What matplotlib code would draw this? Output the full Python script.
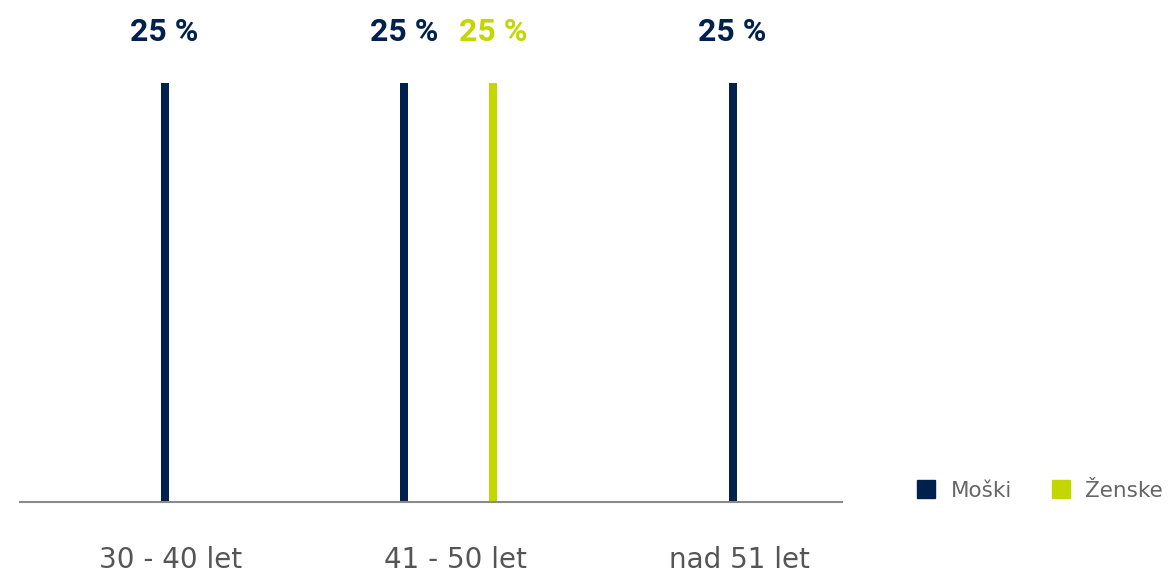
import matplotlib
matplotlib.use("Agg")
import matplotlib.pyplot as plt
from matplotlib.lines import Line2D

categories = ["30 - 40 let", "41 - 50 let", "nad 51 let"]
series_names = ["Moški", "Ženske"]
moski = [25, 25, 25]
zenske = [0, 25, 0]
colors = ["#00204e", "#c4d600"]

values = [moski, zenske]

fig = plt.figure(figsize=(11.7, 5.76), dpi=100)
W, H = 1170, 576
ax = fig.add_axes([20 / W, 74 / H, 822 / W, (502 - 83) / H])

px_per_unit = 284.0
ax.set_xlim(-151 / px_per_unit, (842 - 171) / px_per_unit)
ax.set_ylim(0, 25)

group_gap = 89 / px_per_unit
shift = -6.5 / px_per_unit
bar_w = 8 / px_per_unit

# only non-zero series are drawn, centred within each category
for ci, cat in enumerate(categories):
    active = [si for si in range(len(series_names)) if values[si][ci] > 0]
    n = len(active)
    for k, si in enumerate(active):
        x = ci + shift + (k - (n - 1) / 2) * group_gap
        v = values[si][ci]
        ax.bar(x, v, width=bar_w, color=colors[si], linewidth=0)
        ax.annotate(f"{v} %", (x, v), xytext=(0, 37), textcoords="offset points",
                    ha="center", va="center", fontsize=23, fontweight="bold",
                    family="Roboto", color=colors[si])

for s in ["top", "right", "left"]:
    ax.spines[s].set_visible(False)
ax.spines["bottom"].set_color("#8a8a8a")
ax.spines["bottom"].set_linewidth(1.5)
ax.set_yticks([])
ax.set_xticks(range(len(categories)))
ax.set_xticklabels(categories, fontsize=20, family="DejaVu Sans", color="#555555")
ax.tick_params(axis="x", length=0, pad=32)

handles = [Line2D([], [], marker="s", linestyle="none", markersize=13,
                  markerfacecolor=c, markeredgecolor=c) for c in colors]
fig.legend(handles, series_names, loc="center left",
           bbox_to_anchor=(896 / W, 1 - 491 / H), ncol=2, frameon=False,
           prop={"family": "DejaVu Sans", "size": 15.5}, labelcolor="#666666",
           handletextpad=0.65, columnspacing=1.75, handlelength=1.0)

fig.savefig("out.png", dpi=100)
